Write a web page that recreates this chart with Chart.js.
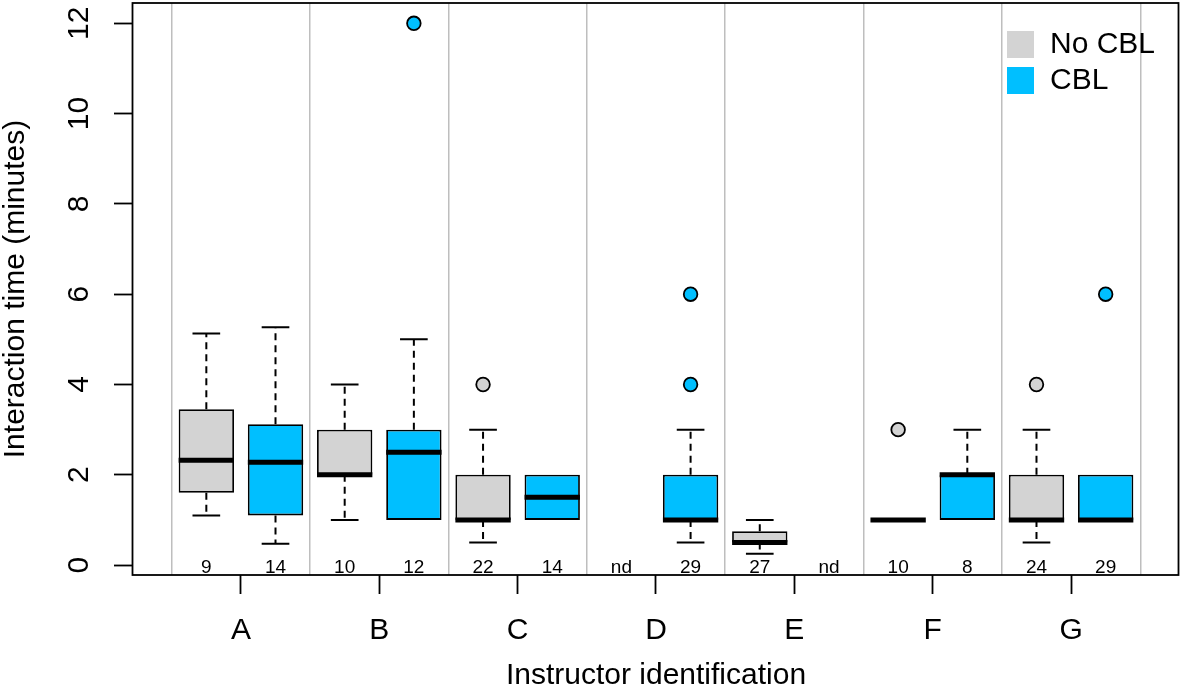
<!DOCTYPE html>
<html><head><meta charset="utf-8">
<script src="https://cdn.jsdelivr.net/npm/chart.js@4"></script>
<style>html,body{margin:0;padding:0;background:#fff}</style>
</head><body>
<canvas id="c" width="1181" height="691"></canvas>
<script>
// ---------------- data ----------------
const instructors = ['A','B','C','D','E','F','G'];
const seriesNames = ['No CBL','CBL'];
// box positions on the x scale (No CBL left, CBL right within each instructor)
const noCblPos = [1,3,5,7,9,11,13];
const cblPos   = [2,4,6,8,10,12,14];
// five-number summaries (minutes); null = no data ("nd")
const noCblLow  = [1.1, 1, 0.5, null, 0.25, 1, 0.5];
const noCblQ1   = [1.6, 2, 1,   null, 0.5,  1, 1];
const noCblMed  = [2.32,2, 1,   null, 0.5,  1, 1];
const noCblQ3   = [3.45,3, 2,   null, 0.75, 1, 2];
const noCblHigh = [5.13,4, 3,   null, 1,    1, 3];
const cblLow  = [0.47, 1,   1,   0.5, null, 1, 1];
const cblQ1   = [1.1,  1,   1,   1,   null, 1, 1];
const cblMed  = [2.28, 2.5, 1.5, 1,   null, 2, 1];
const cblQ3   = [3.12, 3,   2,   2,   null, 2, 2];
const cblHigh = [5.27, 5,   2,   3,   null, 3, 2];
const noCblOutliers = [[], [], [4], [], [], [3], [4]];
const cblOutliers   = [[], [12], [], [4, 6], [], [], [6]];
const noCblN = ['9','10','22','nd','27','10','24'];
const cblN   = ['14','12','14','29','nd','8','29'];
const yTicks = [0,2,4,6,8,10,12];

// ---------------- styles ----------------
const GRAY = '#D3D3D3', BLUE = '#00BFFF', GRID = '#BEBEBE';
const FONT = "'Liberation Sans', Arial, Helvetica, sans-serif";
const BOX_HALF = 0.4, CAP_HALF = 0.2;

Chart.defaults.font.family = FONT;
Chart.defaults.font.size = 30;
Chart.defaults.color = '#000';

// ---------------- helpers building library datasets ----------------
function boxes(pos, q1, q3) {
  const out = [];
  pos.forEach((p, i) => { if (q1[i] != null) out.push({x: p, y: [q1[i], q3[i]]}); });
  return out;
}
function whiskers(pos, lo, q1, q3, hi) {
  const out = [];
  pos.forEach((p, i) => {
    if (q1[i] == null) return;
    if (hi[i] > q3[i]) out.push({x: p, y: q3[i]}, {x: p, y: hi[i]}, {x: p, y: null});
    if (lo[i] < q1[i]) out.push({x: p, y: q1[i]}, {x: p, y: lo[i]}, {x: p, y: null});
  });
  return out;
}
function caps(pos, lo, q1, q3, hi) {
  const out = [];
  pos.forEach((p, i) => {
    if (q1[i] == null) return;
    if (hi[i] > q3[i]) out.push({x: p - CAP_HALF, y: hi[i]}, {x: p + CAP_HALF, y: hi[i]}, {x: p, y: null});
    if (lo[i] < q1[i]) out.push({x: p - CAP_HALF, y: lo[i]}, {x: p + CAP_HALF, y: lo[i]}, {x: p, y: null});
  });
  return out;
}
function medians(pos, med) {
  const out = [];
  pos.forEach((p, i) => { if (med[i] != null) out.push({x: p - BOX_HALF, y: med[i]}, {x: p + BOX_HALF, y: med[i]}, {x: p, y: null}); });
  return out;
}
function outliers(pos, outs) {
  const out = [];
  pos.forEach((p, i) => outs[i].forEach(v => out.push({x: p, y: v})));
  return out;
}

const segCommon = {type: 'line', pointRadius: 0, pointHoverRadius: 0, spanGaps: false, fill: false, tension: 0};

const datasets = [
  Object.assign({}, segCommon, {label: 'med', order: 0, borderColor: '#000', borderWidth: 5, borderCapStyle: 'butt',
    data: medians(noCblPos, noCblMed).concat(medians(cblPos, cblMed))}),
  {type: 'scatter', label: 'outNo', order: 1, data: outliers(noCblPos, noCblOutliers),
    pointRadius: 6.8, pointHoverRadius: 6.8, pointBackgroundColor: GRAY, pointBorderColor: '#000', pointBorderWidth: 1.8},
  {type: 'scatter', label: 'outCbl', order: 1, data: outliers(cblPos, cblOutliers),
    pointRadius: 6.8, pointHoverRadius: 6.8, pointBackgroundColor: BLUE, pointBorderColor: '#000', pointBorderWidth: 1.8},
  Object.assign({}, segCommon, {label: 'caps', order: 2, borderColor: '#000', borderWidth: 2, borderCapStyle: 'butt',
    data: caps(noCblPos, noCblLow, noCblQ1, noCblQ3, noCblHigh).concat(caps(cblPos, cblLow, cblQ1, cblQ3, cblHigh))}),
  {type: 'bar', label: seriesNames[0], order: 3, grouped: false, data: boxes(noCblPos, noCblQ1, noCblQ3),
    backgroundColor: GRAY, borderColor: '#000', borderWidth: 1.8, borderSkipped: false, barPercentage: 1, categoryPercentage: 0.8},
  {type: 'bar', label: seriesNames[1], order: 3, grouped: false, data: boxes(cblPos, cblQ1, cblQ3),
    backgroundColor: BLUE, borderColor: '#000', borderWidth: 1.8, borderSkipped: false, barPercentage: 1, categoryPercentage: 0.8},
  Object.assign({}, segCommon, {label: 'whisk', order: 4, borderColor: '#000', borderWidth: 2, borderDash: [7, 5], borderCapStyle: 'butt',
    data: whiskers(noCblPos, noCblLow, noCblQ1, noCblQ3, noCblHigh).concat(whiskers(cblPos, cblLow, cblQ1, cblQ3, cblHigh))})
];

// ---------------- plugins ----------------
const whiteBg = {id: 'whiteBg', beforeDraw(c) { const x = c.ctx; x.save(); x.fillStyle = '#fff'; x.fillRect(0, 0, c.width, c.height); x.restore(); }};
const frame = {id: 'frame', afterDraw(c) {
  const a = c.chartArea, x = c.ctx; x.save(); x.strokeStyle = '#000'; x.lineWidth = 1.8;
  x.strokeRect(a.left - 0.5, a.top, a.right - a.left, a.bottom - a.top); x.restore();
}};
const counts = {id: 'counts', afterDatasetsDraw(c) {
  const xs = c.scales.x, a = c.chartArea, x = c.ctx;
  x.save(); x.font = '19px ' + FONT; x.fillStyle = '#000'; x.textAlign = 'center'; x.textBaseline = 'alphabetic';
  noCblPos.forEach((p, i) => x.fillText(noCblN[i], xs.getPixelForValue(p), a.bottom - 2));
  cblPos.forEach((p, i) => x.fillText(cblN[i], xs.getPixelForValue(p), a.bottom - 2));
  x.restore();
}};
const legendBox = {id: 'legendBox', afterDraw(c) {
  const a = c.chartArea, x = c.ctx;
  const cols = [GRAY, BLUE];
  x.save(); x.font = '30px ' + FONT; x.textAlign = 'left'; x.textBaseline = 'middle';
  seriesNames.forEach((n, i) => {
    const top = a.top + 28 + i * 36;
    x.fillStyle = cols[i]; x.fillRect(a.right - 172, top, 27, 27);
    x.fillStyle = '#000'; x.fillText(n, a.right - 129, top + 14);
  });
  x.restore();
}};

// ---------------- chart ----------------
const groupCenters = instructors.map((_, i) => 1.5 + 2 * i);
const groupEdges = instructors.map((_, i) => 0.5 + 2 * i).concat([0.5 + 2 * instructors.length]);

new Chart(document.getElementById('c'), {
  type: 'bar',
  data: {datasets},
  plugins: [whiteBg, counts, frame, legendBox],
  options: {
    responsive: false, animation: false, devicePixelRatio: 1,
    layout: {autoPadding: false, padding: {top: 3, right: 2, left: 0, bottom: 0}},
    plugins: {legend: {display: false}, tooltip: {enabled: false}},
    scales: {
      x: {
        type: 'linear', position: 'bottom', min: -0.06, max: 15.06, offset: false,
        afterBuildTicks(s) { s.ticks = groupCenters.map(v => ({value: v})); },
        afterFit(s) { s.height = 116; s.paddingLeft = 0; s.paddingRight = 0; },
        ticks: {autoSkip: false, maxRotation: 0, minRotation: 0, padding: 19, font: {size: 30},
          callback: (v, i) => instructors[i]},
        grid: {offset: false, drawOnChartArea: false, drawTicks: true, tickLength: 19, tickColor: '#000', tickWidth: 1.8},
        border: {display: false},
        title: {display: true, text: 'Instructor identification', font: {size: 30}, padding: {top: 0, bottom: -3}}
      },
      xg: {
        type: 'linear', position: 'bottom', min: -0.06, max: 15.06, offset: false,
        afterBuildTicks(s) { s.ticks = groupEdges.map(v => ({value: v})); },
        afterFit(s) { s.height = 0; s.paddingLeft = 0; s.paddingRight = 0; },
        ticks: {display: false},
        grid: {offset: false, drawOnChartArea: true, drawTicks: false, color: GRID, lineWidth: 1.5},
        border: {display: false}
      },
      y: {
        type: 'linear', position: 'left', min: -0.22, max: 12.45,
        afterBuildTicks(s) { s.ticks = yTicks.map(v => ({value: v})); },
        afterFit(s) { s.width = 133; s.paddingTop = 0; s.paddingBottom = 0; },
        ticks: {minRotation: 90, maxRotation: 90, crossAlign: 'center', padding: 18, font: {size: 30},
          callback: v => String(v)},
        grid: {drawOnChartArea: false, drawTicks: true, tickLength: 19, tickColor: '#000', tickWidth: 1.8},
        border: {display: false},
        title: {display: true, text: 'Interaction time (minutes)', font: {size: 30}, padding: {top: -2, bottom: 0}}
      }
    }
  }
});
</script>
</body></html>
